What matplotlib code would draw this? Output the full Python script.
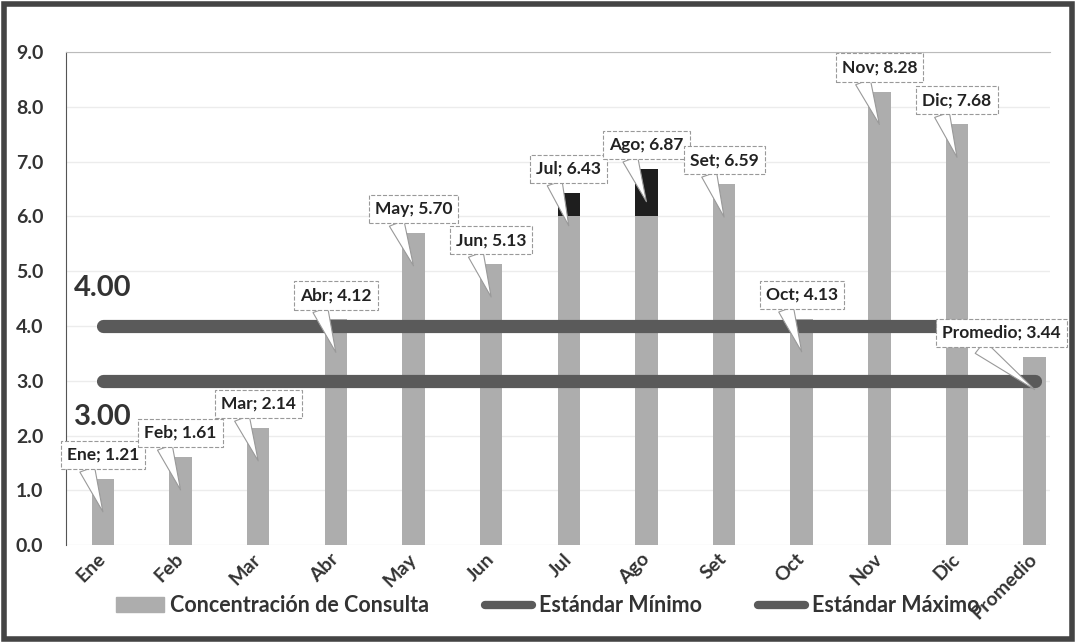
import numpy as np
import matplotlib.pyplot as plt
from matplotlib.lines import Line2D
from matplotlib.patches import Patch

meses = ["Ene", "Feb", "Mar", "Abr", "May", "Jun", "Jul", "Ago", "Set",
         "Oct", "Nov", "Dic", "Promedio"]
concentracion = [1.21, 1.61, 2.14, 4.12, 5.70, 5.13, 6.43, 6.87, 6.59,
                 4.13, 8.28, 7.68, 3.44]
# tramo superior oscuro que aparece en Jul y Ago
tramo_oscuro = [0, 0, 0, 0, 0, 0, 0.43, 0.87, 0, 0, 0, 0, 0]
estandar_minimo = [3.0] * 13
estandar_maximo = [4.0] * 13

plt.rcParams["font.family"] = ["Lato", "DejaVu Sans"]
gris_barra = "#adadad"
gris_linea = "#5a5a5a"
texto = "#333333"

fig = plt.figure(figsize=(10.76, 6.43), dpi=100)
ax = fig.add_axes([0.061, 0.152, 0.915, 0.767])
x = np.arange(len(meses))
ancho = 0.29

base = [v - t for v, t in zip(concentracion, tramo_oscuro)]
ax.bar(x, base, width=ancho, color=gris_barra, zorder=2)
ax.bar(x, tramo_oscuro, bottom=base, width=ancho, color="#1e1e1e", zorder=2)

ax.plot(x, estandar_maximo, color=gris_linea, lw=9.5, solid_capstyle="round", zorder=3)
ax.plot(x, estandar_minimo, color=gris_linea, lw=9.5, solid_capstyle="round", zorder=3)

ax.text(0, 4.69, "4.00", fontsize=21, fontweight="bold", color=texto, ha="center", va="center")
ax.text(0, 2.34, "3.00", fontsize=21, fontweight="bold", color=texto, ha="center", va="center")

for i, (m, v) in enumerate(zip(meses, concentracion)):
    dx = -24 if m == "Promedio" else 0
    ax.annotate(f"{m}; {v:.2f}", xy=(x[i], v - 0.6), xytext=(dx, 41),
                textcoords="offset points", ha="center", va="center",
                fontsize=12.5, fontweight="bold", color="#222222", zorder=5,
                bbox=dict(boxstyle="square,pad=0.35", fc="white", ec="#999999",
                          ls="--", lw=0.8),
                arrowprops=dict(arrowstyle="wedge,tail_width=0.9,shrink_factor=0.5",
                                fc="white", ec="#999999", lw=0.8,
                                relpos=(0.25, 0), shrinkA=0, shrinkB=0))

ax.set_xlim(-0.48, 12.2)
ax.set_ylim(0, 9)
ax.set_yticks(np.arange(0, 9.1, 1.0))
ax.set_yticklabels([f"{t:.1f}" for t in np.arange(0, 9.1, 1.0)])
ax.set_xticks(x)
ax.set_xticklabels(meses, rotation=45)
for lab in ax.get_xticklabels():
    lab.set_rotation_mode("anchor")
    lab.set_ha("right")
    lab.set_va("center")
ax.tick_params(axis="y", length=0, labelsize=14, pad=16, labelcolor=texto)
ax.tick_params(axis="x", length=0, labelsize=14, pad=8, labelcolor=texto)
for lab in ax.get_yticklabels() + ax.get_xticklabels():
    lab.set_fontweight("bold")
ax.grid(axis="y", color="#ececec", lw=1, zorder=0)
for s in ["right", "bottom"]:
    ax.spines[s].set_visible(False)
ax.spines["left"].set_color("#555555")
ax.spines["top"].set_color("#bbbbbb")

handles = [Patch(color=gris_barra),
           Line2D([0], [0], color=gris_linea, lw=6, solid_capstyle="round"),
           Line2D([0], [0], color=gris_linea, lw=6, solid_capstyle="round")]
fig.legend(handles, ["Concentración de Consulta", "Estándar Mínimo", "Estándar Máximo"],
           loc="center", bbox_to_anchor=(0.509, 0.058), ncol=3, frameon=False,
           prop=dict(size=15.5, weight="bold"), labelcolor=texto,
           handlelength=2.2, columnspacing=2.6, handletextpad=0.3)

fig.patches.append(plt.Rectangle((0.004, 0.006), 0.992, 0.988, transform=fig.transFigure,
                                 fill=False, ec="#444444", lw=4))
fig.savefig("out.png", dpi=100, facecolor="white")
